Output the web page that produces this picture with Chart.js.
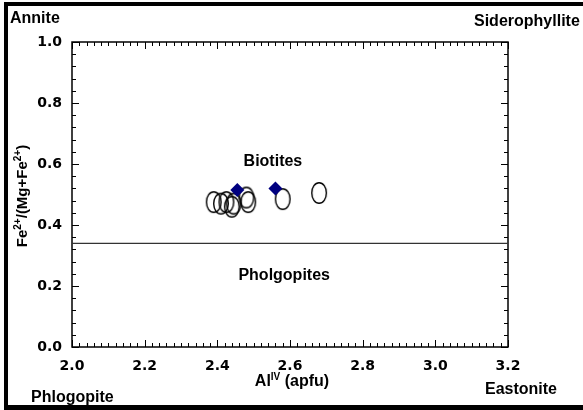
<!DOCTYPE html>
<html>
<head>
<meta charset="utf-8">
<script src="https://cdn.jsdelivr.net/npm/chart.js@4"></script>
<style>
  html, body { margin: 0; padding: 0; background: #fff; }
  #wrap { width: 583px; height: 410px; }
</style>
</head>
<body>
<div id="wrap"><canvas id="micaChart"></canvas></div>
<script>
// Al(IV) against Fe2+/(Mg+Fe2+) for the analysed micas
const circleAl = [2.39, 2.41, 2.425, 2.44, 2.445, 2.48, 2.485, 2.58, 2.68];
const circleFe = [0.475, 0.47, 0.475, 0.46, 0.47, 0.49, 0.475, 0.485, 0.505];
const diamondAl = [2.455, 2.56];
const diamondFe = [0.515, 0.52];
// biotite / phlogopite boundary
const boundaryAl = [2.0, 3.2];
const boundaryFe = [0.34, 0.34];
const xTicks = [2.0, 2.2, 2.4, 2.6, 2.8, 3.0, 3.2];
const yTicks = [0.0, 0.2, 0.4, 0.6, 0.8, 1.0];

const pts = (xs, ys) => xs.map((v, i) => ({ x: v, y: ys[i] }));

// open ellipse used as the marker for the circles
function ellipseMarker() {
  const c = document.createElement('canvas');
  c.width = 18; c.height = 24;
  const g = c.getContext('2d');
  g.strokeStyle = '#000';
  g.lineWidth = 1.4;
  g.beginPath();
  g.ellipse(9, 12, 7.3, 10.3, 0, 0, Math.PI * 2);
  g.stroke();
  return c;
}

const boldArial = size => 'bold ' + size + 'px "Liberation Sans", Arial, sans-serif';

// draws runs of text with superscripts, centred on x
function richText(ctx, parts, x, y) {
  let total = 0;
  parts.forEach(p => { ctx.font = boldArial(p.size); total += ctx.measureText(p.t).width; });
  let cx = x - total / 2;
  ctx.textAlign = 'left';
  ctx.textBaseline = 'alphabetic';
  parts.forEach(p => {
    ctx.font = boldArial(p.size);
    ctx.fillText(p.t, cx, y - (p.up || 0));
    cx += ctx.measureText(p.t).width;
  });
}

const framePlugin = {
  id: 'frame',
  beforeDraw(chart) {
    const ctx = chart.ctx;
    ctx.save();
    ctx.fillStyle = '#fff';
    ctx.fillRect(0, 0, chart.width, chart.height);
    ctx.restore();
  },
  beforeDatasetsDraw(chart) {
    const { ctx, chartArea: a, scales: { x, y } } = chart;
    ctx.save();
    ctx.strokeStyle = '#000';
    ctx.lineWidth = 1;
    ctx.beginPath();
    // inward ticks, minor every 0.02 along x
    for (let i = 0; i <= 60; i++) {
      const px = Math.round(x.getPixelForValue(2 + i * 0.02)) + 0.5;
      const len = i % 10 === 0 ? 7 : 4;
      ctx.moveTo(px, a.bottom); ctx.lineTo(px, a.bottom - len);
      ctx.moveTo(px, a.top); ctx.lineTo(px, a.top + len);
    }
    // and every 0.04 along y
    for (let i = 0; i <= 25; i++) {
      const py = Math.round(y.getPixelForValue(i * 0.04)) + 0.5;
      const len = i % 5 === 0 ? 7 : 4;
      ctx.moveTo(a.left, py); ctx.lineTo(a.left + len, py);
      ctx.moveTo(a.right, py); ctx.lineTo(a.right - len, py);
    }
    ctx.stroke();
    ctx.lineWidth = 1.5;
    ctx.strokeRect(a.left, a.top, a.right - a.left, a.bottom - a.top);
    ctx.restore();
  },
  afterDraw(chart) {
    const { ctx, scales: { x, y } } = chart;
    ctx.save();
    ctx.fillStyle = '#000';

    // field names
    ctx.font = boldArial(16);
    ctx.textAlign = 'center';
    ctx.textBaseline = 'alphabetic';
    ctx.fillText('Biotites', x.getPixelForValue(2.553), y.getPixelForValue(0.593));
    ctx.fillText('Pholgopites', x.getPixelForValue(2.584), y.getPixelForValue(0.22));

    // end members
    ctx.textAlign = 'left';
    ctx.fillText('Annite', 10, 23);
    ctx.fillText('Siderophyllite', 474, 26);
    ctx.fillText('Eastonite', 485, 394);
    ctx.fillText('Phlogopite', 31, 402);

    // axis titles
    richText(ctx, [
      { t: 'Al', size: 16 },
      { t: 'IV', size: 10, up: 6 },
      { t: ' (apfu)', size: 16 }
    ], 292, 386);

    ctx.save();
    ctx.translate(27, 196);
    ctx.rotate(-Math.PI / 2);
    richText(ctx, [
      { t: 'Fe', size: 15 },
      { t: '2+', size: 10, up: 6 },
      { t: '/(Mg+Fe', size: 15 },
      { t: '2+', size: 10, up: 6 },
      { t: ')', size: 15 }
    ], 0, 0);
    ctx.restore();

    // outer frame
    ctx.fillRect(4, 2, 4, 407);
    ctx.fillRect(4, 2, 579, 4);
    ctx.fillRect(4, 405, 579, 5);
    ctx.restore();
  }
};

const tickFont = { family: '"DejaVu Sans", sans-serif', size: 14, weight: 'bold' };

const config = {
  type: 'scatter',
  data: {
    datasets: [
      {
        label: 'diamonds',
        data: pts(diamondAl, diamondFe),
        pointStyle: 'rectRot',
        pointRadius: 7,
        pointHoverRadius: 7,
        backgroundColor: '#000080',
        borderColor: '#000080',
        borderWidth: 0
      },
      {
        label: 'circles',
        data: pts(circleAl, circleFe),
        pointStyle: ellipseMarker(),
        pointRadius: 10
      },
      {
        label: 'boundary',
        data: pts(boundaryAl, boundaryFe),
        showLine: true,
        borderColor: '#333',
        borderWidth: 1.2,
        pointRadius: 0
      }
    ]
  },
  options: {
    responsive: true,
    maintainAspectRatio: false,
    animation: false,
    events: [],
    layout: { padding: { left: 0, top: 42, right: 75, bottom: 0 } },
    plugins: { legend: { display: false }, tooltip: { enabled: false } },
    scales: {
      x: {
        type: 'linear',
        min: 2.0,
        max: 3.2,
        afterBuildTicks: s => { s.ticks = xTicks.map(v => ({ value: v })); },
        afterFit: s => { s.height = 63; },
        grid: { display: false, drawTicks: false },
        border: { display: false },
        ticks: {
          font: tickFont,
          color: '#000',
          padding: 11,
          autoSkip: false,
          maxRotation: 0,
          callback: v => v.toFixed(1)
        }
      },
      y: {
        type: 'linear',
        min: 0,
        max: 1,
        afterBuildTicks: s => { s.ticks = yTicks.map(v => ({ value: v })); },
        afterFit: s => { s.width = 72; },
        grid: { display: false, drawTicks: false },
        border: { display: false },
        ticks: {
          font: tickFont,
          color: '#000',
          padding: 10,
          callback: v => v.toFixed(1)
        }
      }
    }
  },
  plugins: [framePlugin]
};

const micaChart = new Chart(document.getElementById('micaChart'), config);
</script>
</body>
</html>
